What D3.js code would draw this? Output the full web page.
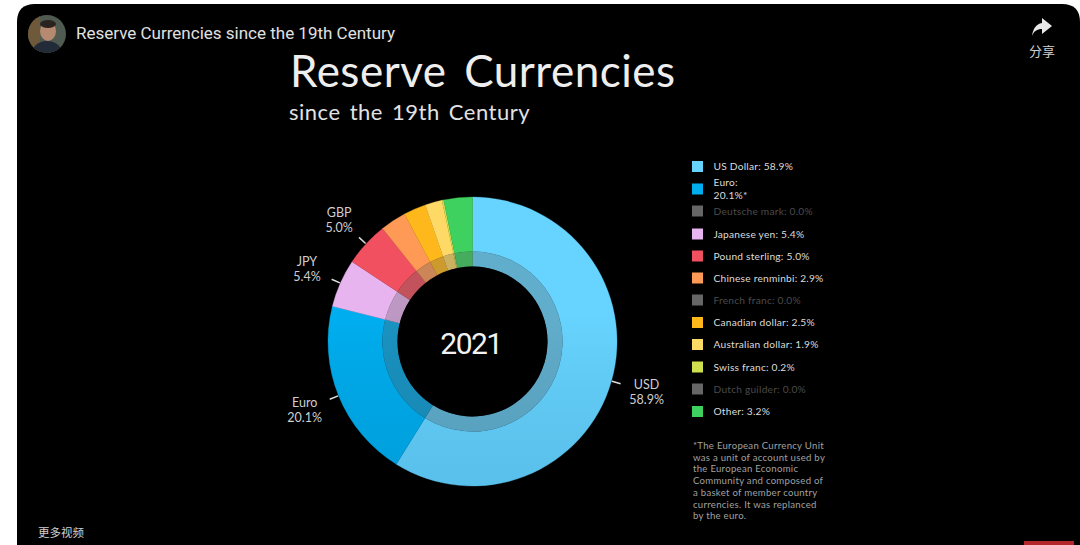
<!DOCTYPE html>
<html><head><meta charset="utf-8">
<style>
html,body{margin:0;padding:0;background:#fff;overflow:hidden}
svg{display:block}
text{font-family:"Lato","Noto Sans",sans-serif}
</style>
<script src="https://cdn.jsdelivr.net/npm/d3@7"></script>
</head><body>
<svg id="c" width="1080" height="545"></svg>
<script>
const pageTitle = "Reserve Currencies since the 19th Century";
const mainTitle = "Reserve Currencies";
const subTitle = "since the 19th Century";
const yearLabel = "2021";
const legendNames = ["US Dollar","Euro","Deutsche mark","Japanese yen","Pound sterling","Chinese renminbi","French franc","Canadian dollar","Australian dollar","Swiss franc","Dutch guilder","Other"];
const legendValues = [58.9,20.1,0.0,5.4,5.0,2.9,0.0,2.5,1.9,0.2,0.0,3.2];
const legendColors = ["#66d4ff","#00aeef","#666666","#e8b4f0","#f0505f","#ff9a56","#666666","#ffb81c","#ffd966","#cfe04f","#666666","#3fd160"];
const calloutNames = {"US Dollar":"USD","Euro":"Euro","Japanese yen":"JPY","Pound sterling":"GBP"};
const footnote = ["*The European Currency Unit","was a unit of account used by","the European Economic","Community and composed of","a basket of member country","currencies. It was replanced","by the euro."];

const svg = d3.select("#c");
const defs = svg.append("defs");
svg.append("rect").attr("width",1080).attr("height",545).attr("fill","#fff");
svg.append("path").attr("d","M17 545V22Q17 4 35 4H1062Q1080 4 1080 22V545Z").attr("fill","#000");

const clip = defs.append("clipPath").attr("id","av");
clip.append("circle").attr("cx",47).attr("cy",34).attr("r",19);
const av = svg.append("g").attr("clip-path","url(#av)");
av.append("rect").attr("x",28).attr("y",15).attr("width",38).attr("height",38).attr("fill","#4f5a50");
av.append("rect").attr("x",28).attr("y",15).attr("width",12).attr("height",38).attr("fill","#6e5a3a");
av.append("ellipse").attr("cx",48).attr("cy",31).attr("rx",8).attr("ry",10).attr("fill","#b58a70");
av.append("ellipse").attr("cx",48).attr("cy",24).attr("rx",8).attr("ry",4).attr("fill","#2a2320");
av.append("ellipse").attr("cx",47).attr("cy",51).attr("rx",14).attr("ry",10).attr("fill","#232a38");
svg.append("text").attr("x",76).attr("y",39).attr("fill","#e0e0e0").attr("font-size",17).style("font-family","Roboto").text(pageTitle);
svg.append("path").attr("d","M1042 18L1052 26L1042 34V29C1037 29 1034 31 1032 36C1033 29 1036 24 1042 23Z").attr("fill","#e8e8e8");
svg.append("text").attr("x",1042).attr("y",56).attr("text-anchor","middle").attr("fill","#cfcfcf").attr("font-size",13).style("font-family","Noto Sans CJK SC").text("分享");
svg.append("text").attr("x",38).attr("y",537).attr("fill","#cfcfcf").attr("font-size",11.5).style("font-family","Noto Sans CJK SC").text("更多视频");
svg.append("rect").attr("x",1024).attr("y",541).attr("width",50).attr("height",4).attr("fill","#b3262c");

svg.append("text").attr("x",290).attr("y",87).attr("fill","#eeeeee").attr("font-size",44).attr("letter-spacing",.5).style("word-spacing","6px").text(mainTitle);
svg.append("text").attr("x",289).attr("y",120).attr("fill","#e2e2e2").attr("font-size",22).attr("letter-spacing",.5).style("word-spacing","3px").text(subTitle);

const cx=472.5, cy=341.5;
const slices = legendNames.map((n,i)=>({name:n,value:legendValues[i],color:legendColors[i]})).filter(d=>d.value>0);
const pie = d3.pie().sort(null).value(d=>d.value);
const arcs = pie(slices);
const outer = d3.arc().innerRadius(90).outerRadius(144.5);
const inner = d3.arc().innerRadius(75).outerRadius(90);
const dim = c => d3.interpolateRgb(c,"#555555")(0.3);
const g = svg.append("g").attr("transform",`translate(${cx},${cy})`);
g.selectAll("path.o").data(arcs).join("path").attr("class","o").attr("d",outer).attr("fill",d=>d.data.color).attr("stroke",d=>d.data.color).attr("stroke-width",.3);
g.selectAll("path.i").data(arcs).join("path").attr("class","i").attr("d",inner).attr("fill",d=>dim(d.data.color)).attr("stroke",d=>dim(d.data.color)).attr("stroke-width",.3);
const gr = defs.append("linearGradient").attr("id","shade").attr("x1",0).attr("x2",0).attr("y1",0).attr("y2",1);
gr.append("stop").attr("offset",0.4).attr("stop-color","#000").attr("stop-opacity",0);
gr.append("stop").attr("offset",1).attr("stop-color","#003a6a").attr("stop-opacity",0.13);
g.append("circle").attr("r",144.8).attr("fill","url(#shade)");
g.append("circle").attr("r",75).attr("fill","#000");
g.append("text").attr("x",-1.5).attr("y",12).attr("text-anchor","middle").attr("fill","#f2f2f2").attr("font-size",30).attr("letter-spacing",-1.5).style("font-family","Roboto").text(yearLabel);

arcs.filter(d=>calloutNames[d.data.name]).forEach(d=>{
  const a=(d.startAngle+d.endAngle)/2, s=Math.sin(a), c=-Math.cos(a);
  g.append("line").attr("x1",s*145).attr("y1",c*145).attr("x2",s*154).attr("y2",c*154).attr("stroke","#ddd").attr("stroke-width",1.5);
  const lx=s*181, ly=c*181;
  const t=g.append("text").attr("text-anchor","middle").attr("fill","#cfcfcf").attr("font-size",12.5);
  t.append("tspan").attr("x",lx).attr("y",ly-2).text(calloutNames[d.data.name]);
  t.append("tspan").attr("x",lx).attr("y",ly+12.5).text(d.data.value.toFixed(1)+"%");
});

const rowY = [166.5,189,211,234,256,278,300,322.5,344.5,367,389,411.5];
const lg = svg.append("g");
legendNames.forEach((n,i)=>{
  const v=legendValues[i], off=v===0;
  const y=rowY[i];
  lg.append("rect").attr("x",692).attr("y",y-5.5).attr("width",11).attr("height",11).attr("fill",legendColors[i]);
  const t=lg.append("text").attr("x",713.5).attr("fill",off?"#4a4a4a":"#dcdcdc").attr("font-size",10.2).attr("letter-spacing",.22);
  if(n==="Euro"){
    t.append("tspan").attr("x",713.5).attr("y",y-3).text("Euro:");
    t.append("tspan").attr("x",713.5).attr("y",y+10).text(v.toFixed(1)+"%*");
  } else {
    t.attr("y",y+3.7).text(`${n}: ${v.toFixed(1)}%`);
  }
});
footnote.forEach((l,i)=>svg.append("text").attr("x",693).attr("y",449+i*11.7).attr("fill","#a0a0a0").attr("font-size",9.6).attr("letter-spacing",.27).text(l));
</script>
</body></html>
